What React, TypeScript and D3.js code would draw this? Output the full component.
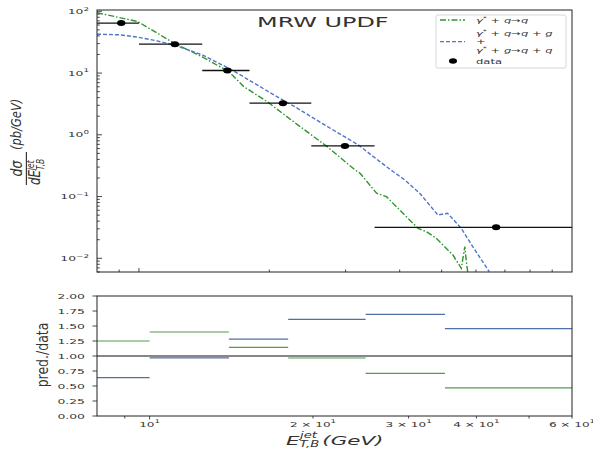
import React from "react";
import * as d3 from "d3";

// ---- data ----
const binEdges = [8, 10, 14, 18, 25, 35, 60];
const ratioQQ = [1.25, 1.40, 1.145, 0.967, 0.71, 0.47];
const ratioSum = [0.64, 0.97, 1.28, 1.61, 1.695, 1.455];

const dataX = [9.1, 12.1, 16.0, 21.5, 29.9, 66.8];
const dataY = [64.4, 29.4, 11.0, 3.25, 0.66, 0.0318];
const dataLo = [8, 10, 14, 18, 25, 35];
const dataHi = [10, 14, 18, 25, 35, 130];

const qqX = [8.0, 9.0, 9.93, 12.05, 14.0, 16.13, 17.46, 19.76, 23.0, 27.2, 31.55, 32.4, 35.38, 37.3, 40.7, 44.1, 46.1, 48.6, 53.1, 55.5, 56.55, 57.15, 57.6];
const qqY = [95, 79.4, 68.4, 30.5, 18.3, 10.5, 6.04, 3.45, 1.54, 0.644, 0.27, 0.239, 0.113, 0.0996, 0.0536, 0.0306, 0.027, 0.0211, 0.0113, 0.00688, 0.0154, 0.0078, 0.0052];

const sumX = [8.0, 9.0, 9.93, 11.0, 12.04, 14.0, 16.1, 17.4, 20.0, 23.2, 27.0, 32.1, 36.0, 38.6, 41.1, 44.5, 49.0, 51.6, 55.5, 59.0, 64.4];
const sumY = [42.6, 41.6, 38.2, 33.2, 28.6, 19.7, 12.0, 8.77, 4.9, 2.7, 1.41, 0.686, 0.368, 0.254, 0.186, 0.113, 0.0504, 0.0536, 0.0306, 0.0154, 0.00607];

const ratioTicks = [0, 0.25, 0.5, 0.75, 1.0, 1.25, 1.5, 1.75, 2.0];
const bottomXLabels = [
  { v: 10, pre: "", exp: "1" },
  { v: 20, pre: "2 × ", exp: "1" },
  { v: 30, pre: "3 × ", exp: "1" },
  { v: 40, pre: "4 × ", exp: "1" },
  { v: 60, pre: "6 × ", exp: "1" },
];

const GREEN = "#2f942f";
const BLUE = "#4f76c8";
const SX = 1.65;
const FONT = "DejaVu Sans";

// ---- layout ----
const L = 97, R = 572;
const T1 = 10, B1 = 272;
const T2 = 296, B2 = 416;

function ST({ x, y, sx = SX, anchor = "start", size = 7, fill = "#333", children }: any) {
  return (
    <text
      transform={`translate(${x},${y}) scale(${sx},1)`}
      textAnchor={anchor}
      fontSize={size}
      fill={fill}
      fontFamily={FONT}
    >
      {children}
    </text>
  );
}

const isPow10 = (v: number) => Math.abs(Math.log10(v) - Math.round(Math.log10(v))) < 1e-6;

export default function App() {
  const xTop = d3.scaleLog().domain([8, 100]).range([L, R]);
  const yTop = d3.scaleLog().domain([0.006, 105]).range([B1, T1]);
  const xBot = d3.scaleLog().domain([8, 60]).range([L, R]);
  const yBot = d3.scaleLinear().domain([0, 2]).range([B2, T2]);

  const lineTop = d3
    .line<[number, number]>()
    .x((d) => xTop(d[0]))
    .y((d) => yTop(d[1]));

  const qqPath = lineTop(qqX.map((x, i) => [x, qqY[i]]) as [number, number][]) || "";
  const sumPath = lineTop(sumX.map((x, i) => [x, sumY[i]]) as [number, number][]) || "";

  const yTopTicks = yTop.ticks();
  const xTopTicks = xTop.ticks().filter((v) => v > 8 && v < 100);
  const xBotTicks = xBot.ticks().filter((v) => v > 8 && v <= 60);

  const supExp = (e: string) => (
    <tspan dy={-3.4} fontSize={5.3}>{e}</tspan>
  );

  return (
    <div style={{ position: "fixed", left: 0, top: 0 }}>
      <svg width={593} height={453} style={{ display: "block", background: "#fff" }}>
        <defs>
          <clipPath id="clipTop">
            <rect x={L} y={T1} width={R - L} height={B1 - T1} />
          </clipPath>
          <clipPath id="clipBot">
            <rect x={L} y={T2} width={R - L} height={B2 - T2} />
          </clipPath>
        </defs>

        {/* ===== TOP PANEL ===== */}
        <g clipPath="url(#clipTop)">
          <path d={qqPath} fill="none" stroke={GREEN} strokeWidth={1.4} strokeDasharray="6,2,1.5,2" />
          <path d={sumPath} fill="none" stroke={BLUE} strokeWidth={1.4} strokeDasharray="4,2" />
          {dataX.map((x, i) => (
            <g key={i}>
              <line
                x1={xTop(dataLo[i])}
                x2={xTop(dataHi[i])}
                y1={yTop(dataY[i])}
                y2={yTop(dataY[i])}
                stroke="#111"
                strokeWidth={1.3}
              />
              <ellipse cx={xTop(x)} cy={yTop(dataY[i])} rx={4.2} ry={3} fill="#000" />
            </g>
          ))}
        </g>

        {/* y ticks top (inward) */}
        {yTopTicks.map((v, i) => {
          const major = isPow10(v);
          return (
            <line key={"yt" + i} x1={L} x2={L + (major ? 5 : 2.8)} y1={yTop(v)} y2={yTop(v)} stroke="#333" strokeWidth={0.9} />
          );
        })}
        {yTopTicks.filter(isPow10).map((v, i) => {
          const e = Math.round(Math.log10(v));
          return (
            <ST key={"ytl" + i} x={89} y={yTop(v) + 2.6} anchor="end" size={7.5}>
              10{supExp(e < 0 ? "−" + Math.abs(e) : String(e))}
            </ST>
          );
        })}
        {/* x ticks top (inward) */}
        {xTopTicks.map((v, i) => (
          <line key={"xt" + i} x1={xTop(v)} x2={xTop(v)} y1={B1} y2={B1 - (isPow10(v) ? 4 : 2.5)} stroke="#333" strokeWidth={0.9} />
        ))}
        <rect x={L} y={T1} width={R - L} height={B1 - T1} fill="none" stroke="#222" strokeWidth={1} />

        {/* title */}
        <ST x={257} y={26.5} size={14.5} fill="#333">MRW UPDF</ST>

        {/* legend */}
        <rect x={436} y={15} width={130} height={53} rx={2} fill="#fff" fillOpacity={0.85} stroke="#ccc" strokeWidth={0.8} />
        <line x1={440} x2={465} y1={20} y2={20} stroke={GREEN} strokeWidth={1.3} strokeDasharray="6,2,1.5,2" />
        <line x1={440} x2={465} y1={41.7} y2={41.7} stroke={BLUE} strokeWidth={1.3} strokeDasharray="4,2" />
        <ellipse cx={453} cy={61} rx={4} ry={2.8} fill="#000" />
        <ST x={476} y={22.5} size={7}>
          <tspan fontStyle="italic">γ</tspan>
          <tspan dy={-2.5} fontSize={5}>*</tspan>
          <tspan dy={2.5}> + </tspan>
          <tspan fontStyle="italic">q</tspan>→<tspan fontStyle="italic">q</tspan>
        </ST>
        <ST x={476} y={35.5} size={7}>
          <tspan fontStyle="italic">γ</tspan>
          <tspan dy={-2.5} fontSize={5}>*</tspan>
          <tspan dy={2.5}> + </tspan>
          <tspan fontStyle="italic">q</tspan>→<tspan fontStyle="italic">q</tspan> + <tspan fontStyle="italic">g</tspan>
        </ST>
        <ST x={476} y={44} size={7}>+</ST>
        <ST x={476} y={52.5} size={7}>
          <tspan fontStyle="italic">γ</tspan>
          <tspan dy={-2.5} fontSize={5}>*</tspan>
          <tspan dy={2.5}> + </tspan>
          <tspan fontStyle="italic">g</tspan>→<tspan fontStyle="italic">q</tspan> + <tspan fontStyle="italic">q</tspan>
        </ST>
        <ST x={476} y={63.5} size={7}>data</ST>

        {/* top y label */}
        <g transform="translate(0,0) scale(1.3,1) rotate(-90)" fontFamily={FONT} fill="#333">
          <text x={-168.5} y={16.8} textAnchor="middle" fontSize={12.5} fontStyle="italic">dσ</text>
          <line x1={-185} x2={-152} y1={20.3} y2={20.3} stroke="#333" strokeWidth={0.9} />
          <text x={-185} y={30.5} fontSize={12} fontStyle="italic">dE</text>
          <text x={-170} y={26.2} fontSize={7.5} fontStyle="italic">jet</text>
          <text x={-170} y={34} fontSize={7.5} fontStyle="italic">T,B</text>
          <text x={-150} y={16.5} fontSize={11.5} fontStyle="italic">(pb/GeV)</text>
        </g>

        {/* ===== BOTTOM PANEL ===== */}
        <g clipPath="url(#clipBot)">
          <line x1={L} x2={R} y1={yBot(1)} y2={yBot(1)} stroke="#111" strokeWidth={1.2} />
          {ratioQQ.map((r, i) => (
            <line key={"rq" + i} x1={xBot(binEdges[i])} x2={xBot(binEdges[i + 1])} y1={yBot(r)} y2={yBot(r)} stroke="#4f9e4f" strokeWidth={1.2} />
          ))}
          {ratioSum.map((r, i) => (
            <line key={"rs" + i} x1={xBot(binEdges[i])} x2={xBot(binEdges[i + 1])} y1={yBot(r)} y2={yBot(r)} stroke="#4f6fa8" strokeWidth={1.2} />
          ))}
        </g>
        {ratioTicks.map((v, i) => (
          <g key={"ry" + i}>
            <line x1={L - 4.5} x2={L} y1={yBot(v)} y2={yBot(v)} stroke="#333" strokeWidth={0.9} />
            <ST x={85} y={yBot(v) + 2.6} anchor="end" size={7.5}>{v.toFixed(2)}</ST>
          </g>
        ))}
        {xBotTicks.map((v, i) => (
          <line key={"bx" + i} x1={xBot(v)} x2={xBot(v)} y1={B2} y2={B2 + (isPow10(v) ? 3.5 : 2.5)} stroke="#333" strokeWidth={0.9} />
        ))}
        {bottomXLabels.map((t, i) => (
          <ST key={"bxl" + i} x={xBot(t.v)} y={426.5} anchor="middle" size={7.3}>
            {t.pre}10{supExp(t.exp)}
          </ST>
        ))}
        <rect x={L} y={T2} width={R - L} height={B2 - T2} fill="none" stroke="#222" strokeWidth={1} />

        {/* bottom y label */}
        <g transform="translate(48,355) scale(1.3,1) rotate(-90)">
          <text x={0} y={0} textAnchor="middle" fontSize={12.5} fontFamily={FONT} fill="#333">pred./data</text>
        </g>

        {/* x label */}
        <g transform="translate(286,444.5) scale(1.65,1)" fontFamily={FONT} fill="#333">
          <text x={0} y={0} fontSize={13} fontStyle="italic">E</text>
          <text x={8.5} y={-6.3} fontSize={8} fontStyle="italic">jet</text>
          <text x={8.2} y={2.5} fontSize={8} fontStyle="italic">T,B</text>
          <text x={22} y={0} fontSize={13} fontStyle="italic">(GeV)</text>
        </g>
      </svg>
    </div>
  );
}
